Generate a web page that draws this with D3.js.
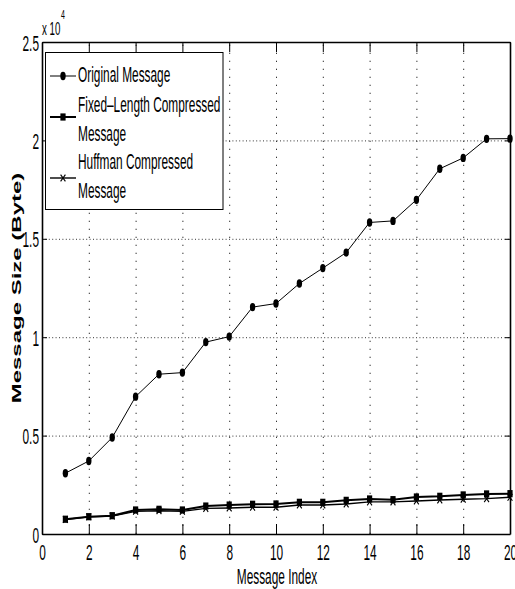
<!DOCTYPE html>
<html>
<head>
<meta charset="utf-8">
<script src="https://cdn.jsdelivr.net/npm/d3@7"></script>
<style>
  html, body { margin: 0; padding: 0; background: #fff; }
  svg { display: block; font-family: "Liberation Sans", Arial, Helvetica, sans-serif; }
</style>
</head>
<body>
<svg id="chart" width="515" height="589"></svg>
<script>
// Message sizes in bytes for each message index
const messageIndex = d3.range(1, 21);
const originalSize = [3090, 3710, 4900, 6980, 8120, 8200, 9750, 10030, 11530, 11710,
                      12730, 13510, 14300, 15830, 15910, 16980, 18560, 19110, 20080, 20090];
const fixedSize    = [750, 880, 930, 1220, 1255, 1220, 1420, 1470, 1510, 1525,
                      1610, 1610, 1710, 1780, 1745, 1880, 1915, 1985, 2035, 2050];
const huffmanSize  = [740, 870, 910, 1150, 1180, 1150, 1300, 1320, 1360, 1360,
                      1475, 1475, 1525, 1630, 1630, 1680, 1730, 1765, 1795, 1865];

const xTicks = [0, 2, 4, 6, 8, 10, 12, 14, 16, 18, 20];
const yTicks = [0, 5000, 10000, 15000, 20000, 25000];
const yTickLabels = ["0", "0.5", "1", "1.5", "2", "2.5"];
const seriesNames = [["Original Message"], ["Fixed\u2013Length Compressed", "Message"], ["Huffman Compressed", "Message"]];

// Glyphs are drawn narrow and tall
const SX = 0.54;
const FS = 22;

const svg = d3.select("#chart");
const plotL = 42, plotR = 510, plotT = 42, plotB = 534;

const x = d3.scaleLinear().domain([0, 20]).range([plotL, plotR]);
const y = d3.scaleLinear().domain([0, 25000]).range([plotB, plotT]);

// Dotted grid
const gridX = svg.append("g")
  .attr("transform", `translate(0,${plotB})`)
  .call(d3.axisBottom(x).tickValues(xTicks.slice(1, -1)).tickSize(-(plotB - plotT)).tickFormat(""));
gridX.select(".domain").remove();
gridX.selectAll("line").attr("stroke", "#333").attr("stroke-width", 1).attr("stroke-dasharray", "1.3,6.7");

const gridY = svg.append("g")
  .attr("transform", `translate(${plotL},0)`)
  .call(d3.axisLeft(y).tickValues(yTicks.slice(1, -1)).tickSize(-(plotR - plotL)).tickFormat(""));
gridY.select(".domain").remove();
gridY.selectAll("line").attr("stroke", "#333").attr("stroke-width", 1).attr("stroke-dasharray", "1,2.4");

// Axes with inward ticks on all four sides
function styleAxis(g) {
  g.select(".domain").attr("stroke", "#000").attr("stroke-width", 1.6);
  g.selectAll(".tick line").attr("stroke", "#000").attr("stroke-width", 1);
}

const axB = svg.append("g")
  .attr("transform", `translate(0,${plotB})`)
  .call(d3.axisBottom(x).tickValues(xTicks).tickSizeInner(-10).tickSizeOuter(0).tickPadding(0).tickFormat(d3.format("d")));
styleAxis(axB);
axB.selectAll(".tick text")
  .attr("y", 0).attr("dy", null)
  .attr("transform", `translate(0,26) scale(${SX},1)`)
  .attr("font-size", FS).attr("fill", "#000").attr("font-family", "Liberation Sans, Arial, sans-serif");

const axT = svg.append("g")
  .attr("transform", `translate(0,${plotT})`)
  .call(d3.axisTop(x).tickValues(xTicks).tickSizeInner(-10).tickSizeOuter(0).tickFormat(""));
styleAxis(axT);

const axL = svg.append("g")
  .attr("transform", `translate(${plotL},0)`)
  .call(d3.axisLeft(y).tickValues(yTicks).tickSizeInner(-5).tickSizeOuter(0).tickPadding(0)
    .tickFormat((d, i) => yTickLabels[i]));
styleAxis(axL);
axL.selectAll(".tick text")
  .attr("x", 0).attr("dy", null).attr("y", 0)
  .attr("text-anchor", "end")
  .attr("transform", `translate(-3,8) scale(${SX},1)`)
  .attr("font-size", FS).attr("fill", "#000").attr("font-family", "Liberation Sans, Arial, sans-serif");

const axR = svg.append("g")
  .attr("transform", `translate(${plotR},0)`)
  .call(d3.axisRight(y).tickValues(yTicks).tickSizeInner(-5).tickSizeOuter(0).tickFormat(""));
styleAxis(axR);

// Exponent label
svg.append("g").attr("transform", `translate(42,35) scale(${SX},1)`)
  .append("text").attr("font-size", 18).attr("fill", "#000").text("x 10");
svg.append("g").attr("transform", `translate(61,19) scale(${SX},1)`)
  .append("text").attr("font-size", 13).attr("fill", "#000").text("4");

// Axis titles
svg.append("g").attr("transform", `translate(${(plotL + plotR) / 2 + 1},584) scale(${SX},1)`)
  .append("text").attr("text-anchor", "middle").attr("font-size", FS).attr("fill", "#000")
  .text("Message Index");

svg.append("g").attr("transform", `translate(21,${(plotT + plotB) / 2}) rotate(-90) scale(1,0.5)`)
  .append("text").attr("text-anchor", "middle").attr("font-size", 24).attr("font-weight", "bold").attr("fill", "#000")
  .text("Message Size (Byte)");

// Marker shapes
function drawMarker(g, kind, cx, cy) {
  if (kind === "circle") {
    g.append("ellipse").attr("cx", cx).attr("cy", cy).attr("rx", 2.7).attr("ry", 4.2).attr("fill", "#000");
  } else if (kind === "square") {
    g.append("rect").attr("x", cx - 2.6).attr("y", cy - 3.6).attr("width", 5.2).attr("height", 7.2).attr("fill", "#000");
  } else {
    g.append("path")
      .attr("d", `M${cx - 2.4},${cy - 3.4}L${cx + 2.4},${cy + 3.4}M${cx - 2.4},${cy + 3.4}L${cx + 2.4},${cy - 3.4}`)
      .attr("stroke", "#000").attr("stroke-width", 1.1).attr("fill", "none");
  }
}

const series = [
  { values: originalSize, marker: "circle", width: 1 },
  { values: fixedSize, marker: "square", width: 2 },
  { values: huffmanSize, marker: "x", width: 1.4 }
];

const line = d3.line().x((d, i) => x(messageIndex[i])).y(d => y(d));

series.forEach(s => {
  const g = svg.append("g");
  g.append("path").datum(s.values).attr("d", line)
    .attr("fill", "none").attr("stroke", "#000").attr("stroke-width", s.width).attr("stroke-linejoin", "round");
  s.values.forEach((v, i) => drawMarker(g, s.marker, x(messageIndex[i]), y(v)));
});

// Legend
const legend = svg.append("g");
legend.append("rect").attr("x", 45.5).attr("y", 52.5).attr("width", 177.5).attr("height", 157)
  .attr("fill", "#fff").attr("stroke", "#000").attr("stroke-width", 1);

const legendRows = [
  { marker: "circle", width: 1, sampleY: 76, baselines: [82] },
  { marker: "square", width: 2, sampleY: 117, baselines: [112, 141] },
  { marker: "x", width: 1.4, sampleY: 178, baselines: [169, 198] }
];

legendRows.forEach((r, k) => {
  legend.append("line").attr("x1", 50).attr("x2", 76).attr("y1", r.sampleY).attr("y2", r.sampleY)
    .attr("stroke", "#000").attr("stroke-width", r.width);
  drawMarker(legend, r.marker, 63, r.sampleY);
  seriesNames[k].forEach((t, j) => {
    legend.append("g").attr("transform", `translate(78,${r.baselines[j]}) scale(${SX},1)`)
      .append("text").attr("font-size", FS).attr("fill", "#000").text(t);
  });
});
</script>
</body>
</html>
